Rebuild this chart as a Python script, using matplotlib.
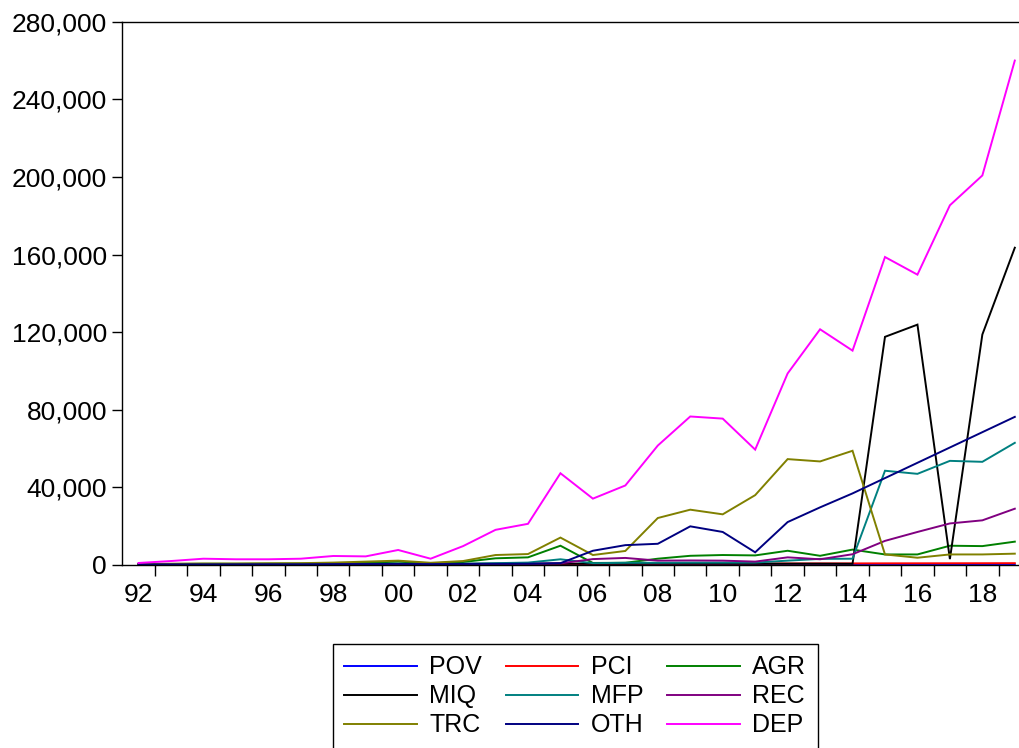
import matplotlib
matplotlib.use("Agg")
import matplotlib.pyplot as plt
from matplotlib.ticker import FuncFormatter, FixedLocator

plt.rcParams['font.family'] = ['Liberation Sans', 'DejaVu Sans']

# annual series, 1992-2019
years = list(range(1992, 2020))

pov = [36, 36, 35, 37, 35, 34, 33, 34, 32, 31, 31, 30, 30, 29, 29, 28,
       28, 27, 27, 26, 26, 25, 25, 24, 24, 23, 23, 22]
pci = [150, 170, 180, 190, 200, 210, 220, 240, 250, 260, 280, 300, 320, 350,
       380, 400, 430, 450, 480, 500, 520, 550, 570, 600, 620, 640, 660, 690]
agr = [200, 300, 400, 400, 500, 500, 600, 900, 1500, 600, 1300, 3200, 3700,
       9700, 800, 900, 3000, 4500, 4900, 4700, 7100, 4500, 7700, 5200, 5200,
       9700, 9500, 11800]
miq = [100, 150, 200, 200, 250, 250, 300, 300, 350, 300, 350, 400, 400, 450,
       400, 400, 450, 450, 450, 400, 450, 450, 400, 117500, 123800, 2800,
       118700, 163500]
mfp = [100, 100, 150, 150, 200, 200, 250, 300, 400, 300, 400, 700, 1000, 2700,
       700, 900, 900, 1000, 1000, 1000, 2000, 2900, 3000, 48400, 46800, 53500,
       53000, 62800]
rec = [50, 60, 80, 100, 100, 120, 150, 180, 200, 150, 200, 250, 300, 600,
       2800, 3400, 2000, 2100, 2000, 1500, 3700, 2700, 5300, 12200, 16800,
       21200, 22800, 28800]
trc = [300, 400, 500, 500, 600, 700, 1000, 1500, 2000, 900, 1800, 4900, 5400,
       13900, 4900, 7000, 24000, 28300, 25900, 35800, 54400, 53200, 58700,
       5200, 3500, 5200, 5200, 5600]
oth = [50, 80, 100, 120, 150, 150, 200, 250, 300, 200, 300, 350, 400, 700,
       7100, 10000, 10700, 19700, 16800, 6300, 21900, 29500, 36700, 44600,
       52500, 60400, 68300, 76200]
dep = [800, 1800, 3000, 2700, 2700, 3000, 4400, 4200, 7500, 3000, 9500, 17900,
       21000, 47100, 34000, 40800, 61400, 76400, 75300, 59300, 98600, 121400,
       110400, 158700, 149600, 185400, 200800, 260100]

names = ['POV', 'PCI', 'AGR', 'MIQ', 'MFP', 'REC', 'TRC', 'OTH', 'DEP']
series = [pov, pci, agr, miq, mfp, rec, trc, oth, dep]
colors = ['#0000ff', '#ff0000', '#008000', '#000000', '#008080',
          '#800080', '#808000', '#000080', '#ff00ff']

fig = plt.figure(figsize=(10.2, 7.48), dpi=100)
ax = fig.add_axes([0.1199, 0.2453, 0.8801, 0.7253])

lines = {}
for name, vals, c in zip(names, series, colors):
    lines[name], = ax.plot(years, vals, color=c, lw=1.4, solid_joinstyle='miter')

ax.set_xlim(1991.5, 2019.16)
ax.set_ylim(0, 280000)

# y axis
ax.yaxis.set_major_locator(FixedLocator(range(0, 280001, 40000)))
ax.yaxis.set_major_formatter(FuncFormatter(lambda v, p: f'{int(v):,}'))
ax.tick_params(axis='y', direction='out', length=7, width=1, pad=4,
               labelsize=19)

# x axis: labels on even years, tick marks between years
ax.xaxis.set_major_locator(FixedLocator(range(1992, 2019, 2)))
ax.xaxis.set_major_formatter(FuncFormatter(lambda v, p: f'{int(v) % 100:02d}'))
ax.xaxis.set_minor_locator(FixedLocator([y + 0.5 for y in range(1992, 2019)]))
ax.tick_params(axis='x', which='major', length=0, pad=13, labelsize=19)
ax.tick_params(axis='x', which='minor', direction='out', length=8, width=1)

ax.spines['right'].set_visible(False)
for s in ['left', 'bottom', 'top']:
    ax.spines[s].set_linewidth(1.0)

# legend, filled column by column for a 3x3 grid
order = ['POV', 'MIQ', 'TRC', 'PCI', 'MFP', 'OTH', 'AGR', 'REC', 'DEP']
leg = fig.legend([lines[n] for n in order], order, ncol=3,
                 loc='upper left', bbox_to_anchor=(333 / 1020, 1 - 644 / 748),
                 borderaxespad=0, fontsize=18, handlelength=2.9,
                 handletextpad=0.5, columnspacing=0.95, borderpad=0.45,
                 labelspacing=0.2, fancybox=False, framealpha=1,
                 edgecolor='black')
leg.get_frame().set_linewidth(1.0)

fig.savefig('out.png', dpi=100)
